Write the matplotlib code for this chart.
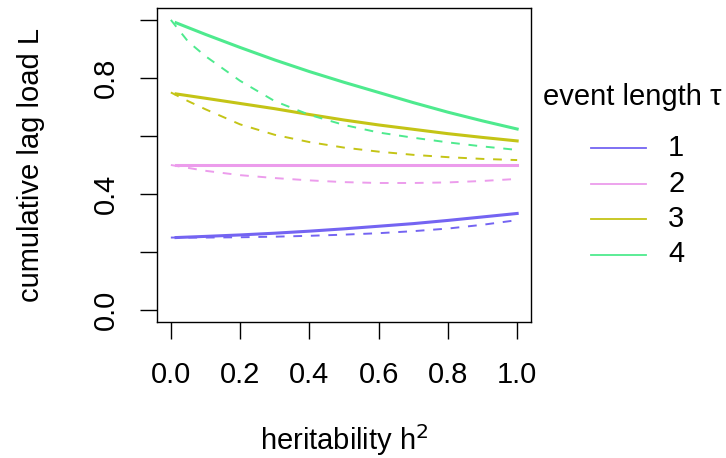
import matplotlib
matplotlib.use("Agg")
import matplotlib.pyplot as plt
from matplotlib.lines import Line2D

plt.rcParams['font.family'] = ['Liberation Sans', 'DejaVu Sans']

# heritability grid
h_solid = [0.015, 0.1, 0.2, 0.3, 0.4, 0.5, 0.6, 0.7, 0.8, 0.9, 1.0]
h_dash = [0.0, 0.05, 0.1, 0.2, 0.3, 0.4, 0.5, 0.6, 0.7, 0.8, 0.9, 1.0]

taus = ['1', '2', '3', '4']
colors = ['#7464f2', '#ec9cec', '#c4c416', '#4eea8e']

solid = {
    '1': [0.250, 0.254, 0.259, 0.265, 0.272, 0.280, 0.289, 0.298, 0.309, 0.321, 0.333],
    '2': [0.500, 0.500, 0.500, 0.500, 0.500, 0.500, 0.500, 0.500, 0.500, 0.500, 0.500],
    '3': [0.745, 0.730, 0.712, 0.694, 0.674, 0.655, 0.638, 0.623, 0.608, 0.595, 0.583],
    '4': [0.990, 0.950, 0.905, 0.862, 0.822, 0.785, 0.750, 0.715, 0.682, 0.652, 0.624],
}
dashed = {
    '1': [0.250, 0.250, 0.250, 0.251, 0.253, 0.256, 0.260, 0.265, 0.272, 0.281, 0.294, 0.310],
    '2': [0.500, 0.490, 0.480, 0.465, 0.455, 0.447, 0.441, 0.438, 0.438, 0.440, 0.445, 0.452],
    '3': [0.750, 0.720, 0.692, 0.640, 0.604, 0.579, 0.560, 0.546, 0.535, 0.527, 0.521, 0.517],
    '4': [1.000, 0.925, 0.875, 0.790, 0.720, 0.673, 0.638, 0.612, 0.594, 0.578, 0.564, 0.552],
}

W, H = 726, 458
fs = 21
fig = plt.figure(figsize=(W/100, H/100), dpi=100)
ax = fig.add_axes([157/W, 1-322/H, (531-157)/W, (322-8)/H])

for t, c in zip(taus, colors):
    ax.plot(h_dash, dashed[t], color=c, lw=1.4, ls=(0, (4.5, 4.5)))
    ax.plot(h_solid, solid[t], color=c, lw=2.2)

ax.set_xlim(-0.04, 1.04)
ax.set_ylim(-0.041, 1.041)
ax.set_xticks([0, 0.2, 0.4, 0.6, 0.8, 1.0])
ax.set_xticklabels(['0.0', '0.2', '0.4', '0.6', '0.8', '1.0'])
ax.set_yticks([0, 0.2, 0.4, 0.6, 0.8, 1.0])
ax.set_yticklabels(['0.0', '', '0.4', '', '0.8', ''], rotation=90, va='center')
ax.tick_params(direction='out', length=12, width=1, labelsize=fs)
ax.tick_params(axis='x', pad=16)
ax.tick_params(axis='y', pad=15)
for s in ax.spines.values():
    s.set_linewidth(1)

fig.text(344/W, 1-440/H, 'heritability h$^2$', fontsize=fs, ha='center', va='center')
fig.text(31/W, 1-165/H, 'cumulative lag load L', fontsize=fs, ha='center',
         va='center', rotation=90)

# legend outside the plot, drawn by hand like R's legend()
fig.text(543/W, 1-97/H, 'event length \u03c4', fontsize=fs, ha='left', va='center')
for i, (t, c) in enumerate(zip(taus, colors)):
    y = 1 - (148 + 35.5*i)/H
    fig.add_artist(Line2D([591/W, 646/W], [y, y], color=c, lw=1.3,
                          transform=fig.transFigure))
    fig.text(668/W, y, t, fontsize=fs, ha='left', va='center')

fig.savefig('out.png', dpi=100)
